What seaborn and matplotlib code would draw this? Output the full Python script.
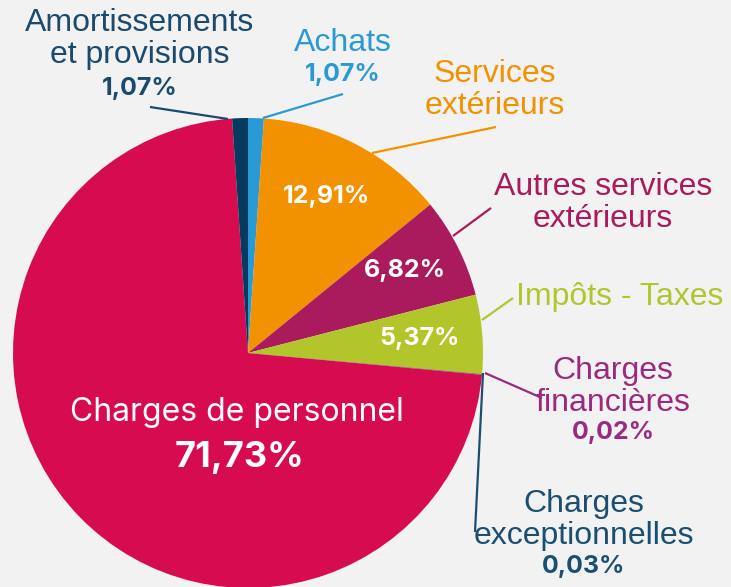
import seaborn as sns
import matplotlib.pyplot as plt

# postes de charges (sens horaire depuis le haut)
postes = ["Achats", "Services\nextérieurs", "Autres services\nextérieurs", "Impôts - Taxes",
          "Charges\nfinancières", "Charges\nexceptionnelles", "Charges de personnel",
          "Amortissements\net provisions"]
parts = [1.07, 12.91, 6.82, 5.37, 0.02, 0.03, 71.73, 1.07]
couleurs = ["#2a9ad6", "#f39200", "#a91b5c", "#b2c62c", "#9a2a80", "#1b4f72", "#d70c50", "#063a5e"]
couleurs_txt = ["#2a9ad6", "#f39200", "#a91b5c", "#b2c62c", "#9a2a80", "#1b4f72", "white", "#1a4a6e"]

sns.set_theme(style="white")
plt.rcParams["font.family"] = ["Liberation Sans", "DejaVu Sans"]

W, H = 731, 587
fig = plt.figure(figsize=(W / 100, H / 100), dpi=100, facecolor="#f2f2f2")
ax = fig.add_axes([0, 0, 1, 1])
ax.set_facecolor("#f2f2f2")

def Y(py):
    return H - py

cx, cy, r = 248, 353, 235
ax.pie(parts, colors=couleurs, startangle=90, counterclock=False,
       center=(cx, Y(cy)), radius=r, frame=True,
       wedgeprops=dict(linewidth=0))
ax.set_xlim(0, W)
ax.set_ylim(0, H)
ax.set_aspect("equal")
ax.axis("off")

def pct(v):
    return f"{v:.2f}".replace(".", ",") + "%"

# étiquettes extérieures : (x, y du nom, y du %, lignes de rappel)
ext = {
    0: (343, 43, 74, [(343, 94), (263, 118)]),
    1: (495, 90, None, [(496, 127), (372, 153)]),
    2: (603, 203, None, [(491, 208), (453, 236)]),
    3: (620, 297, None, [(513, 298), (482, 320)]),
    4: (613, 387, 432, [(542, 398), (485, 373)]),
    5: (584, 520, 566, [(475, 532), (483, 373)]),
    7: (140, 39, 88, [(150, 107), (228, 119)]),
}
for i, (x, y, yp, ligne) in ext.items():
    ax.text(x, Y(y), postes[i], color=couleurs_txt[i], fontsize=23, ha="center",
            va="center", linespacing=1.08)
    if yp is not None:
        ax.text(x, Y(yp), pct(parts[i]), color=couleurs_txt[i], fontsize=18,
                fontweight="bold", family="Inter", ha="center", va="center")
    (x0, y0), (x1, y1) = ligne
    ax.plot([x0, x1], [Y(y0), Y(y1)], color=couleurs_txt[i], lw=1.6,
            solid_capstyle="butt")

# valeurs dans les parts
for i, (x, y) in {1: (327, 197), 2: (405, 271), 3: (420, 339)}.items():
    ax.text(x, Y(y), pct(parts[i]), color="white", fontsize=18, fontweight="bold",
            family="Inter", ha="center", va="center")

ax.text(237, Y(412), postes[6], color="white", fontsize=23, family="Inter",
        ha="center", va="center")
ax.text(240, Y(458), pct(parts[6]), color="white", fontsize=26, fontweight="bold",
        family="Inter", ha="center", va="center")

fig.savefig("out.png", dpi=100, facecolor="#f2f2f2")
